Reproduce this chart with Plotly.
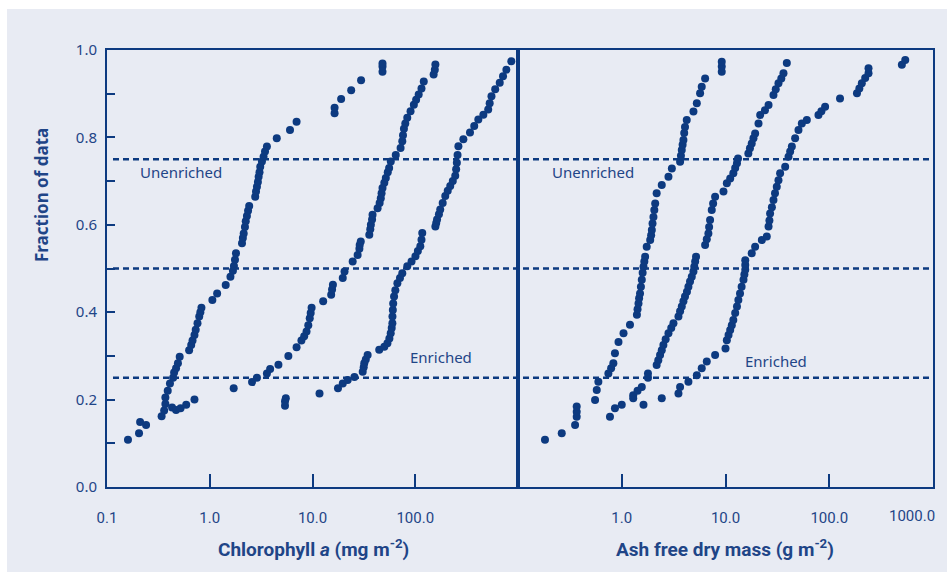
import plotly.graph_objects as go


# distributions cumulees : chlorophylle a (gauche) et masse seche sans cendres (droite)

NAVY = "#0d3a80"
TEXT = "#1f4587"
PANEL_BG = "#e8ebf3"

# --- Chlorophyll a (mg m-2) ---
chl_1_x = [0.16, 0.205, 0.21, 0.24, 0.34, 0.36, 0.37, 0.37, 0.39, 0.41, 0.44, 0.45, 0.47, 0.49, 0.51,
           0.63, 0.66, 0.68, 0.71, 0.73, 0.76, 0.79, 0.81, 0.83, 1.06, 1.18, 1.43, 1.59, 1.68, 1.72,
           1.76, 1.8, 2.06, 2.1, 2.14, 2.2, 2.24, 2.3, 2.36, 2.42, 2.77, 2.82, 2.88, 2.94, 2.99, 3.05,
           3.1, 3.22, 3.34, 3.45, 3.6, 4.49, 6.04, 7.0, 16.4, 16.4, 19, 23.8, 29.7, 48, 48, 48]
chl_1_y = [0.108, 0.123, 0.149, 0.142, 0.162, 0.175, 0.19, 0.205, 0.22, 0.237, 0.25, 0.262, 0.272, 0.283, 0.298,
           0.313, 0.325, 0.335, 0.348, 0.36, 0.375, 0.39, 0.4, 0.41, 0.428, 0.443, 0.462, 0.481, 0.495, 0.506,
           0.52, 0.535, 0.558, 0.57, 0.58, 0.595, 0.608, 0.62, 0.632, 0.643, 0.664, 0.676, 0.687, 0.698, 0.71, 0.72,
           0.733, 0.745, 0.756, 0.768, 0.779, 0.798, 0.817, 0.836, 0.855, 0.868, 0.888, 0.908, 0.931, 0.95, 0.962, 0.969]

chl_2_x = [0.43, 0.47, 0.52, 0.59, 0.71, 1.71, 2.58, 2.88, 3.6, 3.87, 4.66, 5.82, 7.0, 7.8, 8.3, 8.75, 9.1,
           9.4, 9.6, 9.8, 12.7, 15.2, 15.5, 15.8, 19.7, 20.5, 24.6, 27.5, 28.6, 28.8, 29.5, 35.7, 36.5, 37,
           38, 38.4, 43, 45, 46.2, 47, 48, 50, 51.7, 54, 55.7, 57.8, 64.6, 72, 74.8, 76, 77.6, 80, 83.6, 90,
           96.9, 102, 108, 115, 121, 151, 155, 157]
chl_2_y = [0.182, 0.176, 0.18, 0.188, 0.2, 0.226, 0.24, 0.25, 0.26, 0.27, 0.28, 0.3, 0.32, 0.335, 0.345, 0.356, 0.37,
           0.386, 0.398, 0.41, 0.425, 0.44, 0.452, 0.463, 0.478, 0.493, 0.516, 0.531, 0.545, 0.554, 0.562, 0.577, 0.59, 0.6,
           0.612, 0.623, 0.638, 0.65, 0.661, 0.672, 0.684, 0.696, 0.707, 0.72, 0.73, 0.745, 0.76, 0.776, 0.791, 0.805, 0.82,
           0.832, 0.845, 0.86, 0.875, 0.886, 0.898, 0.912, 0.928, 0.944, 0.955, 0.967]

chl_3_x = [5.4, 5.4, 5.5, 11.7, 17.7, 19.7, 22, 25.6, 30.8, 31.5, 31.9, 33, 34.4, 44.6, 50, 53.6, 56, 57.7, 59,
           59.9, 60, 60.5, 61, 62.2, 64, 67, 71, 74.8, 83.6, 92, 100.5, 106, 112, 115, 117, 157, 160, 163, 170,
           175, 185, 196, 207, 219, 232, 245, 250, 254, 258, 263, 294, 341, 375, 411, 460, 513, 530, 552, 600,
           664, 715, 771, 861]
chl_3_y = [0.186, 0.196, 0.203, 0.214, 0.226, 0.237, 0.245, 0.252, 0.264, 0.274, 0.283, 0.292, 0.302, 0.314, 0.321,
           0.329, 0.34, 0.352, 0.364, 0.375, 0.39, 0.405, 0.42, 0.436, 0.45, 0.466, 0.478, 0.489, 0.505, 0.516, 0.528,
           0.54, 0.551, 0.566, 0.581, 0.596, 0.604, 0.612, 0.624, 0.635, 0.65, 0.666, 0.678, 0.689, 0.7, 0.712, 0.727,
           0.742, 0.76, 0.78, 0.796, 0.811, 0.826, 0.841, 0.852, 0.864, 0.878, 0.894, 0.91, 0.925, 0.94, 0.955, 0.974]

# --- Ash free dry mass (g m-2) ---
afdm_1_x = [0.182, 0.264, 0.355, 0.368, 0.368, 0.368, 0.553, 0.574, 0.595, 0.743, 0.79, 0.83, 0.86, 0.93, 1.04,
            1.2, 1.4, 1.42, 1.45, 1.47, 1.5, 1.53, 1.56, 1.59, 1.62, 1.65, 1.68, 1.74, 1.88, 1.92, 1.95, 1.98,
            2.02, 2.06, 2.1, 2.17, 2.43, 2.82, 3.04, 3.65, 3.72, 3.79, 3.86, 3.93, 4.0, 4.07, 4.23, 4.91, 5.29,
            5.69, 5.9, 6.36, 9.2, 9.2, 9.2]
afdm_1_y = [0.108, 0.123, 0.142, 0.161, 0.172, 0.184, 0.199, 0.222, 0.241, 0.26, 0.272, 0.283, 0.306, 0.332, 0.352,
            0.371, 0.394, 0.407, 0.42, 0.432, 0.443, 0.458, 0.474, 0.49, 0.504, 0.516, 0.527, 0.55, 0.565, 0.576, 0.588,
            0.603, 0.618, 0.634, 0.649, 0.672, 0.691, 0.71, 0.729, 0.744, 0.758, 0.771, 0.783, 0.794, 0.81, 0.824, 0.84,
            0.859, 0.878, 0.901, 0.916, 0.935, 0.95, 0.962, 0.973]

afdm_2_x = [0.77, 0.86, 1.0, 1.29, 1.29, 1.42, 1.56, 1.79, 1.79, 2.17, 2.25, 2.34, 2.43, 2.52, 2.65, 2.82, 3.0,
            3.15, 3.52, 3.65, 3.79, 3.93, 4.07, 4.25, 4.39, 4.55, 4.73, 4.91, 5.0, 5.1, 5.2, 6.36, 6.6, 6.84,
            6.95, 7.1, 7.37, 7.6, 7.94, 9.56, 10.3, 11.1, 11.9, 12.4, 12.9, 13.2, 16.6, 17.2, 17.9, 18.6, 19.3,
            20.8, 21.6, 24, 26, 29, 30.5, 32.4, 34.5, 36.2, 39]
afdm_2_y = [0.161, 0.18, 0.188, 0.203, 0.21, 0.22, 0.229, 0.25, 0.26, 0.279, 0.29, 0.302, 0.313, 0.325, 0.338, 0.352,
            0.364, 0.375, 0.39, 0.402, 0.413, 0.425, 0.436, 0.447, 0.458, 0.47, 0.481, 0.493, 0.504, 0.516, 0.527, 0.554,
            0.567, 0.58, 0.595, 0.611, 0.634, 0.649, 0.664, 0.676, 0.695, 0.706, 0.718, 0.73, 0.741, 0.752, 0.763, 0.775,
            0.786, 0.798, 0.809, 0.832, 0.851, 0.862, 0.874, 0.897, 0.91, 0.924, 0.935, 0.947, 0.97]

afdm_3_x = [1.62, 2.43, 3.52, 3.65, 4.39, 5.29, 5.9, 6.6, 7.94, 10, 10.3, 10.7, 11.1, 11.5, 11.9, 12.4, 12.9,
            13.3, 13.8, 14.3, 14.9, 15.2, 15.5, 15.5, 15.5, 17.9, 19.3, 22.4, 25, 26, 26.5, 26.9, 28, 29, 30,
            31.2, 32.4, 33.6, 37.6, 40.5, 42, 43.6, 46.9, 50.5, 54.4, 60.8, 78.7, 84, 91.2, 127, 185, 195, 206,
            222, 239, 239, 501, 540]
afdm_3_y = [0.188, 0.203, 0.214, 0.229, 0.241, 0.256, 0.272, 0.287, 0.302, 0.317, 0.336, 0.348, 0.359, 0.37, 0.382,
            0.398, 0.413, 0.428, 0.443, 0.458, 0.474, 0.486, 0.497, 0.508, 0.519, 0.535, 0.55, 0.565, 0.573, 0.596, 0.61,
            0.626, 0.64, 0.657, 0.672, 0.687, 0.702, 0.718, 0.733, 0.756, 0.768, 0.779, 0.798, 0.817, 0.832, 0.84, 0.851,
            0.86, 0.87, 0.889, 0.901, 0.912, 0.924, 0.936, 0.947, 0.958, 0.966, 0.977]

quartiles = [0.25, 0.5, 0.75]
chl_ticks = [0.1, 1, 10, 100]
chl_tick_labels = ["0.1", "1.0", "10.0", "100.0"]
afdm_ticks = [1, 10, 100]
afdm_tick_labels = ["1.0", "10.0", "100.0"]
afdm_last_label = "1000.0"

W, H = 947, 572
L, R, T, B = 107, 14, 50, 85
PW, PH = W - L - R, H - T - B
SPLIT = (518 - L) / PW


def px_x(p):
    return (p - L) / PW


def px_y(p):
    return (H - B - p) / PH


def add_points(fig, xs, ys, xaxis, yaxis):
    fig.add_trace(go.Scatter(
        x=xs, y=ys, mode="markers", xaxis=xaxis, yaxis=yaxis,
        marker=dict(size=8, color=NAVY, line=dict(width=0)),
        showlegend=False, hoverinfo="x+y",
    ))


def build_figure():
    fig = go.Figure()
    for xs, ys in [(chl_1_x, chl_1_y), (chl_2_x, chl_2_y), (chl_3_x, chl_3_y)]:
        add_points(fig, xs, ys, "x", "y")
    for xs, ys in [(afdm_1_x, afdm_1_y), (afdm_2_x, afdm_2_y), (afdm_3_x, afdm_3_y)]:
        add_points(fig, xs, ys, "x2", "y2")

    axis_common = dict(showline=True, linecolor=NAVY, linewidth=2, mirror=True,
                       showgrid=False, zeroline=False, ticks="inside", tickcolor=NAVY, tickwidth=2)
    tick_font = dict(family="Roboto, sans-serif", size=15, color=TEXT)

    fig.update_layout(
        width=W, height=H,
        margin=dict(l=L, r=R, t=T, b=B),
        paper_bgcolor="white", plot_bgcolor="white",
        xaxis=dict(type="log", range=[-1, 3], domain=[0, SPLIT], anchor="y",
                   tickvals=chl_ticks, ticktext=chl_tick_labels, ticklen=13,
                   ticklabelstandoff=16, tickfont=tick_font, **axis_common),
        xaxis2=dict(type="log", range=[-1, 3], domain=[SPLIT, 1], anchor="y2",
                    tickvals=afdm_ticks, ticktext=afdm_tick_labels, ticklen=13,
                    ticklabelstandoff=16, tickfont=tick_font, **axis_common),
        yaxis=dict(range=[0, 1], anchor="x", tick0=0, dtick=0.2, tickformat=".1f", ticklen=8,
                   ticklabelstandoff=5,
                   minor=dict(tick0=0, dtick=0.1, ticks="inside", ticklen=8, tickwidth=2,
                              tickcolor=NAVY, showgrid=False),
                   tickfont=dict(family="Noto Sans, sans-serif", size=15, color=TEXT), **axis_common),
        yaxis2=dict(range=[0, 1], anchor="x2", showticklabels=False,
                    showline=True, linecolor=NAVY, linewidth=2, mirror=True,
                    showgrid=False, zeroline=False, ticks=""),
    )

    # fond bleu clair autour des graphiques
    fig.add_shape(type="rect", xref="paper", yref="paper", layer="below",
                  x0=px_x(7), x1=px_x(W + 2), y0=px_y(H + 2), y1=px_y(9),
                  fillcolor=PANEL_BG, line=dict(width=0))

    # lignes des quartiles
    for q in quartiles:
        fig.add_shape(type="line", xref="paper", yref="y", x0=px_x(113), x1=1, y0=q, y1=q,
                      line=dict(color=NAVY, width=2.5, dash="6px,4px"))

    label_font = dict(family="Noto Sans, sans-serif", size=15, color=TEXT)
    for xr, yr, x, y, txt in [("x", "y", -0.277, 0.721, "Unenriched"),
                              ("x", "y", 2.25, 0.297, "Enriched"),
                              ("x2", "y2", -0.277, 0.721, "Unenriched"),
                              ("x2", "y2", 1.488, 0.288, "Enriched")]:
        fig.add_annotation(x=x, y=y, xref=xr, yref=yr, text=txt, showarrow=False,
                           xanchor="center", yanchor="middle", font=label_font)

    # derniere etiquette de l'axe de droite, decalee pour rester dans le cadre
    fig.add_annotation(x=px_x(912), y=px_y(516), xref="paper", yref="paper", text=afdm_last_label,
                       showarrow=False, xanchor="center", yanchor="middle", font=tick_font)

    title_font = dict(family="Roboto, sans-serif", size=19, color=TEXT, weight="bold")
    fig.add_annotation(x=px_x(313), y=px_y(548), xref="paper", yref="paper",
                       text="Chlorophyll <i>a</i> (mg m<sup>-2</sup>)", showarrow=False,
                       xanchor="center", yanchor="middle", font=title_font)
    fig.add_annotation(x=px_x(725), y=px_y(548), xref="paper", yref="paper",
                       text="Ash free dry mass (g m<sup>-2</sup>)", showarrow=False,
                       xanchor="center", yanchor="middle", font=title_font)
    fig.add_annotation(x=px_x(41), y=px_y(195), xref="paper", yref="paper",
                       text="<b>Fraction of data</b>", textangle=-90, showarrow=False,
                       xanchor="center", yanchor="middle",
                       font=dict(family="Noto Sans, sans-serif", size=17, color=TEXT))
    return fig


if __name__ == "__main__":
    fig = build_figure()
    fig.write_html("out.html", config={"displayModeBar": False},
                   post_script="document.body.style.margin = '0px';")
